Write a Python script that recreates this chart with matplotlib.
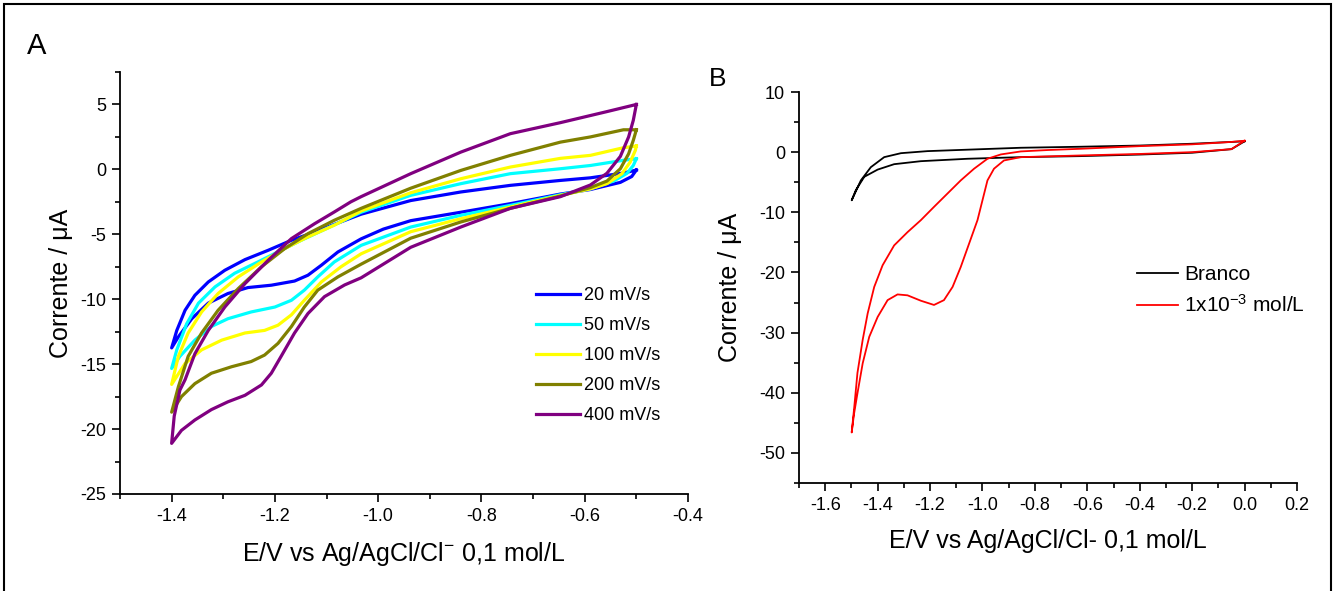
import matplotlib
matplotlib.use("Agg")
import matplotlib.pyplot as plt
from matplotlib.ticker import MultipleLocator
from matplotlib.patches import Rectangle

plt.rcParams['font.family'] = ['Liberation Sans', 'DejaVu Sans']
plt.rcParams['mathtext.default'] = 'regular'

# ---------------- Panel A data (cyclic voltammograms at several scan rates) -------------
a_labels = ['20 mV/s', '50 mV/s', '100 mV/s', '200 mV/s', '400 mV/s']
a_colors = ['#0000FF', '#00FFFF', '#FFFF00', '#808000', '#800080']

# 20 mV/s
a20_low_E = [-1.400, -1.387, -1.361, -1.329, -1.291, -1.252, -1.207, -1.162, -1.136, -1.110,
             -1.078, -1.033, -0.990, -0.937, -0.840, -0.744, -0.647, -0.589, -0.531, -0.509, -0.500]
a20_low_I = [-13.75, -12.9, -11.5, -10.3, -9.56, -9.1, -8.92, -8.6, -8.15, -7.38,
             -6.36, -5.35, -4.6, -3.95, -3.3, -2.64, -1.9, -1.55, -1.0, -0.55, -0.05]
a20_up_E = [-1.400, -1.390, -1.374, -1.355, -1.329, -1.297, -1.258, -1.213, -1.168, -1.123,
            -1.078, -1.033, -0.937, -0.840, -0.744, -0.647, -0.589, -0.525, -0.500]
a20_up_I = [-13.75, -12.4, -10.85, -9.7, -8.67, -7.77, -6.95, -6.23, -5.46, -4.82,
            -4.13, -3.45, -2.4, -1.74, -1.23, -0.85, -0.65, -0.28, -0.05]

# 50 mV/s
a50_low_E = [-1.400, -1.384, -1.355, -1.323, -1.291, -1.246, -1.200, -1.168, -1.143, -1.117,
             -1.085, -1.033, -0.937, -0.840, -0.744, -0.647, -0.589, -0.544, -0.518, -0.506, -0.500]
a50_low_I = [-15.33, -14.4, -13.15, -12.1, -11.5, -10.98, -10.6, -10.08, -9.3, -8.28,
             -7.13, -5.85, -4.44, -3.54, -2.77, -1.95, -1.5, -0.9, -0.3, 0.3, 0.82]
a50_up_E = [-1.400, -1.390, -1.371, -1.348, -1.316, -1.278, -1.233, -1.188, -1.149, -1.097,
            -1.033, -0.937, -0.840, -0.744, -0.647, -0.589, -0.525, -0.500]
a50_up_I = [-15.33, -13.9, -11.9, -10.3, -9.05, -8.0, -7.13, -6.23, -5.46, -4.5,
            -3.3, -2.0, -1.1, -0.33, 0.05, 0.3, 0.7, 0.82]

# 100 mV/s
a100_low_E = [-1.400, -1.374, -1.342, -1.303, -1.258, -1.220, -1.194, -1.168, -1.143, -1.110,
              -1.072, -1.033, -0.937, -0.840, -0.744, -0.647, -0.589, -0.557, -0.528, -0.512,
              -0.502, -0.500]
a100_low_I = [-16.56, -14.95, -13.9, -13.15, -12.6, -12.4, -12.0, -11.2, -10.08, -8.67,
              -7.5, -6.5, -4.8, -3.8, -2.9, -2.0, -1.5, -1.1, -0.33, 0.56,
              1.46, 1.8]
a100_up_E = [-1.400, -1.387, -1.368, -1.342, -1.310, -1.271, -1.226, -1.181, -1.136, -1.085,
             -1.033, -0.937, -0.840, -0.744, -0.647, -0.589, -0.525, -0.500]
a100_up_I = [-16.56, -14.4, -12.6, -10.98, -9.56, -8.28, -7.13, -6.1, -5.2, -4.3,
             -3.2, -1.8, -0.72, 0.18, 0.85, 1.08, 1.67, 1.8]

# 200 mV/s
a200_low_E = [-1.400, -1.381, -1.355, -1.323, -1.284, -1.246, -1.220, -1.194, -1.168, -1.143,
              -1.117, -1.078, -1.033, -0.937, -0.840, -0.744, -0.647, -0.589, -0.557, -0.531,
              -0.515, -0.506, -0.500]
a200_low_I = [-18.7, -17.5, -16.5, -15.7, -15.2, -14.8, -14.3, -13.4, -12.1, -10.6,
              -9.3, -8.28, -7.3, -5.3, -4.05, -3.0, -2.05, -1.4, -0.9, 0.05,
              1.2, 2.23, 3.05]
a200_up_E = [-1.400, -1.387, -1.368, -1.342, -1.310, -1.271, -1.226, -1.181, -1.136, -1.085,
             -1.033, -0.937, -0.840, -0.744, -0.647, -0.589, -0.525, -0.500]
a200_up_I = [-18.7, -16.75, -14.4, -12.6, -10.85, -9.18, -7.5, -6.1, -4.95, -3.92,
             -3.0, -1.45, -0.08, 1.08, 2.1, 2.5, 3.05, 3.05]

# 400 mV/s
a400_low_E = [-1.400, -1.381, -1.355, -1.323, -1.291, -1.258, -1.226, -1.207, -1.188, -1.162,
              -1.136, -1.104, -1.065, -1.033, -0.937, -0.840, -0.744, -0.647, -0.589, -0.557,
              -0.531, -0.515, -0.506, -0.500]
a400_low_I = [-21.1, -20.1, -19.3, -18.5, -17.9, -17.4, -16.6, -15.7, -14.4, -12.6,
              -11.1, -9.8, -8.9, -8.35, -6.0, -4.44, -3.0, -2.1, -1.2, -0.3,
              1.0, 2.5, 3.77, 5.0]
a400_up_E = [-1.400, -1.395, -1.384, -1.374, -1.355, -1.329, -1.297, -1.258, -1.213, -1.168,
             -1.123, -1.085, -1.053, -1.033, -0.937, -0.840, -0.744, -0.647, -0.557, -0.500]
a400_up_I = [-21.1, -19.0, -17.0, -16.2, -14.2, -12.4, -10.6, -8.8, -7.0, -5.33,
             -4.18, -3.28, -2.5, -2.1, -0.33, 1.33, 2.75, 3.6, 4.45, 5.0]

a_series = [
    (a20_low_E, a20_low_I, a20_up_E, a20_up_I),
    (a50_low_E, a50_low_I, a50_up_E, a50_up_I),
    (a100_low_E, a100_low_I, a100_up_E, a100_up_I),
    (a200_low_E, a200_low_I, a200_up_E, a200_up_I),
    (a400_low_E, a400_low_I, a400_up_E, a400_up_I),
]

# ---------------- Panel B data -------------
b_labels = ['Branco', '1x10$^{-3}$ mol/L']
b_colors = ['#000000', '#FF0000']

branco_low_E = [-1.499, -1.483, -1.451, -1.400, -1.337, -1.235, -1.057, -0.854, -0.626, -0.400,
                -0.200, -0.050, 0.000]
branco_low_I = [-8.0, -6.3, -4.1, -2.9, -2.0, -1.5, -1.1, -0.83, -0.66, -0.4,
                -0.1, 0.5, 1.8]
branco_up_E = [-1.499, -1.464, -1.426, -1.375, -1.311, -1.210, -1.032, -0.854, -0.626, -0.400,
               -0.200, -0.050, 0.000]
branco_up_I = [-8.0, -4.7, -2.5, -0.83, -0.17, 0.17, 0.45, 0.73, 0.9, 1.1,
               1.4, 1.7, 1.8]

amostra_low_E = [-1.499, -1.490, -1.477, -1.457, -1.432, -1.400, -1.362, -1.324, -1.286, -1.235,
                 -1.185, -1.147, -1.114, -1.083, -1.051, -1.019, -1.000, -0.981, -0.956, -0.918,
                 -0.854, -0.626, -0.400, -0.200, -0.050, 0.000]
amostra_low_I = [-46.6, -43.5, -40.1, -35.1, -30.7, -27.4, -24.6, -23.65, -23.8, -24.7,
                 -25.4, -24.6, -22.4, -19.1, -15.2, -11.3, -8.0, -4.7, -2.75, -1.38,
                 -0.83, -0.55, -0.3, 0.0, 0.5, 1.9]
amostra_up_E = [-1.499, -1.489, -1.477, -1.457, -1.438, -1.413, -1.381, -1.337, -1.286, -1.235,
                -1.185, -1.134, -1.083, -1.032, -0.981, -0.930, -0.854, -0.752, -0.626, -0.400,
                -0.200, -0.050, 0.000]
amostra_up_I = [-46.6, -42.3, -36.7, -31.2, -26.8, -22.4, -18.8, -15.5, -13.3, -11.3,
                -9.1, -6.9, -4.7, -2.75, -1.1, -0.38, 0.12, 0.35, 0.56, 1.0,
                1.3, 1.7, 1.9]

b_series = [
    (branco_low_E, branco_low_I, branco_up_E, branco_up_I),
    (amostra_low_E, amostra_low_I, amostra_up_E, amostra_up_I),
]

# ---------------- Figure -------------
W, H = 1334, 591
fig = plt.figure(figsize=(W / 100, H / 100), dpi=100)


def px_axes(l, t, r, b):
    return fig.add_axes([l / W, 1 - b / H, (r - l) / W, (b - t) / H])


def style(ax):
    for s in ['top', 'right']:
        ax.spines[s].set_visible(False)
    for s in ['left', 'bottom']:
        ax.spines[s].set_linewidth(1.3)
    ax.tick_params(which='major', direction='out', length=6, width=1.2, labelsize=13, pad=4)
    ax.tick_params(which='minor', direction='out', length=3.5, width=1.2)


def loop(low_E, low_I, up_E, up_I):
    E = list(reversed(low_E)) + list(up_E[1:])
    I = list(reversed(low_I)) + list(up_I[1:])
    return E, I


# Panel A
axA = px_axes(120, 72, 688, 494)
style(axA)
for (lE, lI, uE, uI), lab, col in zip(a_series, a_labels, a_colors):
    E, I = loop(lE, lI, uE, uI)
    axA.plot(E, I, color=col, lw=2.3, label=lab, solid_joinstyle='round')
axA.set_xlim(-1.5, -0.4)
axA.set_ylim(-25, 7.5)
axA.set_xticks([-1.4, -1.2, -1.0, -0.8, -0.6, -0.4])
axA.set_xticklabels(['-1.4', '-1.2', '-1.0', '-0.8', '-0.6', '-0.4'])
axA.xaxis.set_minor_locator(MultipleLocator(0.1))
axA.set_yticks([5, 0, -5, -10, -15, -20, -25])
axA.set_yticklabels(['5', '0', '-5', '-10', '-15', '-20', '-25'])
axA.yaxis.set_minor_locator(MultipleLocator(2.5))
axA.set_xlabel('E/V vs Ag/AgCl/Cl$^{-}$ 0,1 mol/L', fontsize=18)
axA.set_ylabel('Corrente / μA', fontsize=18)
axA.xaxis.set_label_coords(0.5, -0.108)
axA.yaxis.set_label_coords(-0.083, 0.5)
axA.legend(loc='upper left', bbox_to_anchor=(0.733, 0.49), frameon=False, fontsize=13,
           handlelength=2.4, handletextpad=0.22, labelspacing=0.72, borderpad=0, borderaxespad=0)
fig.text(37 / W, 1 - 46 / H, 'A', fontsize=21, ha='center', va='center')

# Panel B
axB = px_axes(799, 92, 1297, 483)
style(axB)
for (lE, lI, uE, uI), lab, col in zip(b_series, b_labels, b_colors):
    E, I = loop(lE, lI, uE, uI)
    axB.plot(E, I, color=col, lw=1.3, label=lab, solid_joinstyle='round')
axB.set_xlim(-1.7, 0.2)
axB.set_ylim(-55, 10)
axB.set_xticks([-1.6, -1.4, -1.2, -1.0, -0.8, -0.6, -0.4, -0.2, 0.0, 0.2])
axB.set_xticklabels(['-1.6', '-1.4', '-1.2', '-1.0', '-0.8', '-0.6', '-0.4', '-0.2', '0.0', '0.2'])
axB.xaxis.set_minor_locator(MultipleLocator(0.1))
axB.set_yticks([10, 0, -10, -20, -30, -40, -50])
axB.set_yticklabels(['10', '0', '-10', '-20', '-30', '-40', '-50'])
axB.yaxis.set_minor_locator(MultipleLocator(5))
axB.set_xlabel('E/V vs Ag/AgCl/Cl- 0,1 mol/L', fontsize=18)
axB.set_ylabel('Corrente / μA', fontsize=18)
axB.xaxis.set_label_coords(0.5, -0.118)
axB.yaxis.set_label_coords(-0.115, 0.5)
axB.legend(loc='upper left', bbox_to_anchor=(0.679, 0.558), frameon=False, fontsize=15,
           handlelength=1.97, handletextpad=0.29, labelspacing=0.5, borderpad=0, borderaxespad=0)
fig.text(718 / W, 1 - 79 / H, 'B', fontsize=19, ha='center', va='center')

# outer frame
fig.add_artist(Rectangle((4 / W, -0.05), (1331 - 4) / W, 1.05 - 4 / H, transform=fig.transFigure,
                         fill=False, edgecolor='black', linewidth=1.5, clip_on=False))

fig.savefig('out.png', dpi=100)
